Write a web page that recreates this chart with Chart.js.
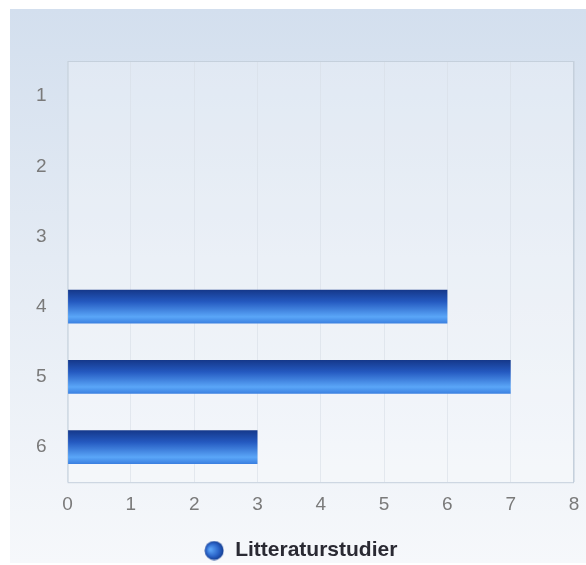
<!DOCTYPE html>
<html>
<head>
<meta charset="utf-8">
<script src="https://cdn.jsdelivr.net/npm/chart.js@4.4.1/dist/chart.umd.min.js"></script>
<style>
  html, body { margin: 0; padding: 0; background: #ffffff; }
  #wrap { position: relative; width: 586px; height: 565px; }
  #bg {
    position: absolute; left: 10px; top: 9px; right: 0; bottom: 2px;
    background: linear-gradient(to bottom, #d3dfee 0%, #e4ebf4 45%, #f6f8fb 100%);
  }
  canvas { position: absolute; left: 0; top: 0; }
</style>
</head>
<body>
<div id="wrap">
  <div id="bg"></div>
  <canvas id="chart" width="586" height="565"></canvas>
</div>
<script>
// ---- Data ----
const categories = ['1', '2', '3', '4', '5', '6'];
const seriesName = 'Litteraturstudier';
const seriesValues = [0, 0, 0, 6, 7, 3];
const xTicks = [0, 1, 2, 3, 4, 5, 6, 7, 8];

// ---- Bar gradient (per bar, vertical) ----
function barGradient(ctx, top, bottom) {
  const g = ctx.createLinearGradient(0, top, 0, bottom);
  g.addColorStop(0, '#15388a');
  g.addColorStop(0.35, '#2459c0');
  g.addColorStop(0.8, '#5aa6f8');
  g.addColorStop(1, '#3a7fe0');
  return g;
}

// ---- Legend marker: small gradient circle ----
const marker = document.createElement('canvas');
marker.width = 20; marker.height = 20;
(() => {
  const c = marker.getContext('2d');
  const g = c.createRadialGradient(6, 9, 1, 10, 10, 10);
  g.addColorStop(0, '#5aa2f5');
  g.addColorStop(0.6, '#2a63c8');
  g.addColorStop(1, '#123a8c');
  c.fillStyle = g;
  c.beginPath(); c.arc(10, 10, 9.5, 0, Math.PI * 2); c.fill();
})();

const plotBg = {
  id: 'plotBg',
  afterLayout(chart) {
    // push legend a little lower and right
    chart.legend.top += 6;
    chart.legend.bottom += 6;
    chart.legend.left += 6;
    chart.legend.right += 6;
  },
  beforeDatasetsDraw(chart) {
    const { ctx, chartArea: a } = chart;
    ctx.save();
    ctx.fillStyle = 'rgba(255,255,255,0.25)';
    ctx.fillRect(a.left, a.top, a.right - a.left, a.bottom - a.top);
    ctx.strokeStyle = '#c5d0dc';
    ctx.lineWidth = 1;
    ctx.strokeRect(a.left + 0.5, a.top + 0.5, a.right - a.left - 1, a.bottom - a.top);
    ctx.restore();
    // gradient each bar
    chart.getDatasetMeta(0).data.forEach(el => {
      const top = el.y - el.height / 2;
      el.options.backgroundColor = barGradient(ctx, top, top + el.height);
    });
  }
};

new Chart(document.getElementById('chart'), {
  type: 'bar',
  data: {
    labels: categories,
    datasets: [{
      label: seriesName,
      data: seriesValues,
      backgroundColor: () => '#2a63c8',
      borderWidth: 0,
      categoryPercentage: 1,
      barPercentage: 0.48
    }]
  },
  options: {
    indexAxis: 'y',
    responsive: false,
    animation: false,
    layout: { padding: { left: 15, right: 12, top: 61, bottom: 0 } },
    plugins: {
      tooltip: { enabled: false },
      legend: {
        position: 'bottom',
        labels: {
          usePointStyle: true,
          color: '#2a2a33',
          font: { family: 'Liberation Sans', size: 21, weight: 'bold' },
          padding: 3,
          generateLabels: (chart) => [{
            text: seriesName,
            pointStyle: marker,
            fillStyle: '#2a63c8',
            strokeStyle: 'transparent',
            lineWidth: 0,
            fontColor: '#2a2a33',
            datasetIndex: 0
          }]
        }
      }
    },
    scales: {
      x: {
        min: 0,
        max: 8,
        afterBuildTicks: (axis) => { axis.ticks = xTicks.map(v => ({ value: v })); },
        afterFit: (axis) => { axis.height += 4; axis.paddingRight = 0; axis.paddingLeft = 0; },
        grid: { color: 'rgba(200,210,222,0.6)', drawTicks: false },
        border: { display: false },
        ticks: { color: '#7a7a7a', padding: 11, font: { family: 'Liberation Sans', size: 19 } }
      },
      y: {
        grid: { display: false, drawTicks: false },
        border: { display: false },
        ticks: { color: '#7a7a7a', padding: 21, font: { family: 'Liberation Sans', size: 19 } }
      }
    }
  },
  plugins: [plotBg]
});
</script>
</body>
</html>
